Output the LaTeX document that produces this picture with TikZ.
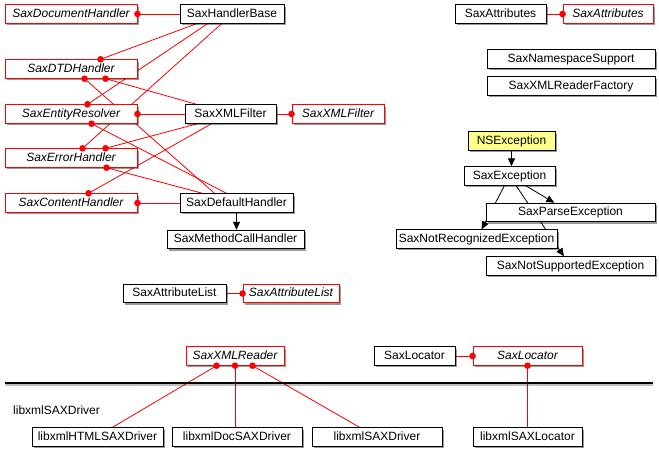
\documentclass[tikz,border=0pt]{standalone}
\usepackage{fontspec}
\setmainfont{Liberation Sans}
\usetikzlibrary{arrows.meta,shadows}
\pgfdeclarelayer{background}
\pgfsetlayers{background,main}
\definecolor{nsyellow}{RGB}{255,255,140}
\tikzset{
  lbl/.style={font=\fontsize{12}{14}\selectfont},
  box/.style={draw, fill=white, line width=0.9pt, minimum height=18.5pt, inner sep=0pt, lbl,
    text height=8.8pt, text depth=2.4pt,
    drop shadow={shadow xshift=2pt, shadow yshift=-2pt, opacity=0.4, fill=black}},
  cls/.style={box},
  proto/.style={box, draw=red, font=\fontsize{12}{14}\selectfont\itshape},
  impl/.style={red, line width=0.8pt},
  inh/.style={black, line width=0.8pt, -{Triangle[length=8pt,width=7pt]}},
}
\newcommand\implln[2]{%
  \begin{pgfonlayer}{background}\draw[impl] #1 -- #2;\end{pgfonlayer}%
  \fill[red] #2 circle (3.3pt);}
\begin{document}
\begin{tikzpicture}[x=1pt,y=-1pt]
\useasboundingbox (0,0) rectangle (659,452);
% nodes
\node[proto, minimum width=132pt] (doc) at (71,14) {SaxDocumentHandler};
\node[cls, minimum width=104pt] (hb) at (232,14) {SaxHandlerBase};
\node[proto, minimum width=132pt] (dtd) at (71,69) {SaxDTDHandler};
\node[proto, minimum width=132pt] (ent) at (71,114) {SaxEntityResolver};
\node[cls, minimum width=91pt] (xf) at (230.5,114) {SaxXMLFilter};
\node[proto, minimum width=92pt] (xfp) at (338,114) {SaxXMLFilter};
\node[proto, minimum width=132pt] (err) at (71,158) {SaxErrorHandler};
\node[proto, minimum width=132pt] (cont) at (71,203) {SaxContentHandler};
\node[cls, minimum width=113pt] (dh) at (236.5,203) {SaxDefaultHandler};
\node[cls, minimum width=137pt] (mch) at (235.5,239.5) {SaxMethodCallHandler};
\node[cls, minimum width=91pt] (attr) at (500.5,14) {SaxAttributes};
\node[proto, minimum width=90pt] (attrp) at (608,14) {SaxAttributes};
\node[cls, minimum width=168pt] (nss) at (571,59) {SaxNamespaceSupport};
\node[cls, minimum width=168pt] (xrf) at (571,86) {SaxXMLReaderFactory};
\node[cls, fill=nsyellow, minimum width=87pt] (nse) at (511.5,141) {NSException};
\node[cls, minimum width=91pt] (exc) at (509.5,176) {SaxException};
\node[cls, minimum width=169pt] (pex) at (570.5,212.5) {SaxParseException};
\node[cls, minimum width=161pt] (nre) at (476.5,239) {SaxNotRecognizedException};
\node[cls, minimum width=169pt] (nsu) at (570.5,266) {SaxNotSupportedException};
\node[cls, minimum width=103pt] (al) at (174.5,293.5) {SaxAttributeList};
\node[proto, minimum width=96pt] (alp) at (291,293.5) {SaxAttributeList};
\node[proto, minimum width=98pt] (xr) at (235,356) {SaxXMLReader};
\node[cls, minimum width=81pt] (loc) at (414.5,356) {SaxLocator};
\node[proto, minimum width=109pt] (locp) at (527.5,356) {SaxLocator};
\node[lbl, anchor=west, inner sep=0pt] (drvlabel) at (13,410) {libxmlSAXDriver};
\node[cls, minimum width=131pt] (html) at (97.5,437) {libxmlHTMLSAXDriver};
\node[cls, minimum width=130pt] (docd) at (237,437) {libxmlDocSAXDriver};
\node[cls, minimum width=130pt] (saxd) at (377,437) {libxmlSAXDriver};
\node[cls, minimum width=109pt] (saxl) at (527.5,437) {libxmlSAXLocator};
% separator
\coordinate (sepL) at (5,383);
\coordinate (sepR) at (653,383);
\draw[line width=2.5pt, black, opacity=0.25] ([yshift=-2pt]sepL) -- ([yshift=-2pt]sepR);
\draw[line width=2pt] (sepL) -- (sepR);
% protocol conformance
\implln{(hb.west)}{(doc.east)}
\implln{([xshift=17pt]hb.south west)}{([xshift=96pt]dtd.north west)}
\implln{([xshift=28pt]hb.south west)}{([xshift=83pt]ent.north west)}
\implln{([xshift=42pt]hb.south west)}{([xshift=78pt]err.north west)}
\implln{(xf.west)}{(ent.east)}
\implln{(xf.east)}{(xfp.west)}
\implln{([xshift=12pt]xf.north west)}{([xshift=101pt]dtd.south west)}
\implln{([xshift=13pt]xf.south west)}{([xshift=101pt]err.north west)}
\implln{([xshift=27pt]xf.south west)}{([xshift=84pt]cont.north west)}
\implln{(dh.west)}{(cont.east)}
\implln{([xshift=35pt]dh.north west)}{([xshift=80pt]dtd.south west)}
\implln{([xshift=47pt]dh.north west)}{([xshift=87pt]ent.south west)}
\implln{([xshift=23pt]dh.north west)}{([xshift=102pt]err.south west)}
\implln{(attr.east)}{(attrp.west)}
\implln{(al.east)}{(alp.west)}
\implln{(loc.east)}{(locp.west)}
\implln{([xshift=81pt]html.north west)}{([xshift=31pt]xr.south west)}
\implln{(xr.south |- docd.north)}{(xr.south)}
\implln{([xshift=48pt]saxd.north west)}{([xshift=67pt]xr.south west)}
\implln{(saxl.north)}{(locp.south)}
% inheritance
\begin{pgfonlayer}{background}
\draw[inh] (dh.south) -- (dh.south |- mch.north);
\draw[inh] (nse.south) -- (nse.south |- exc.north);
\draw[inh] (exc) -- (pex);
\draw[inh] (exc) -- (nre);
\draw[inh] (exc) -- (nsu);
\end{pgfonlayer}
\end{tikzpicture}
\end{document}
